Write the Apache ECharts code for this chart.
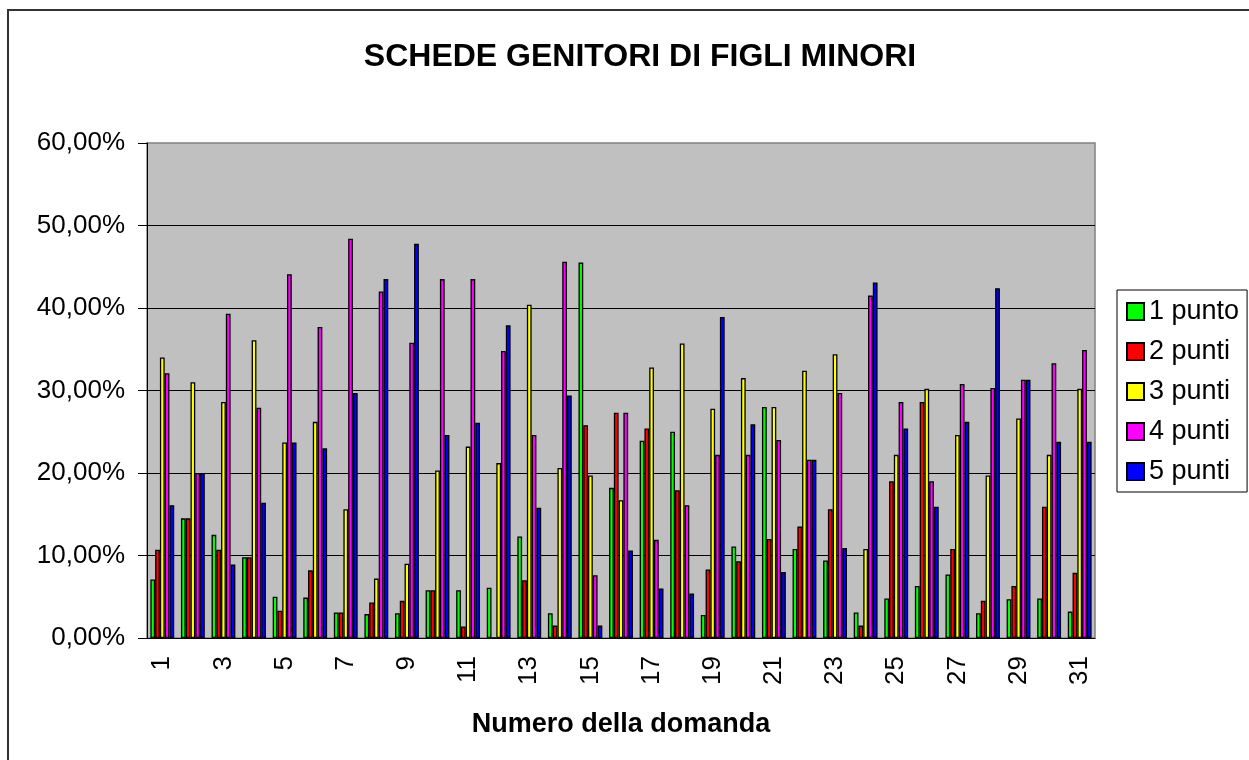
<!DOCTYPE html>
<html>
<head>
<meta charset="utf-8">
<script src="https://cdn.jsdelivr.net/npm/echarts@6/dist/echarts.min.js"></script>
<style>
  html, body { margin: 0; padding: 0; background: #fff; }
  #main { width: 1249px; height: 760px; }
</style>
</head>
<body>
<div id="main"></div>
<script>
// domande 1..31
const domande = [];
for (let i = 1; i <= 31; i++) domande.push(String(i));

// percentuali
const punto1 = [7.1, 14.5, 12.5, 9.8, 5.0, 4.9, 3.1, 2.9, 3.0, 5.8, 5.8, 6.1, 12.3, 3.0, 45.5, 18.2, 23.9, 25.0, 2.8, 11.1, 28.0, 10.8, 9.4, 3.1, 4.8, 6.3, 7.7, 3.0, 4.7, 4.8, 3.2];
const punti2 = [10.7, 14.5, 10.7, 9.8, 3.3, 8.2, 3.1, 4.3, 4.5, 5.8, 1.4, 0, 7.0, 1.5, 25.8, 27.3, 25.4, 17.9, 8.3, 9.3, 12.0, 13.5, 15.6, 1.5, 19.0, 28.6, 10.8, 4.5, 6.3, 15.9, 7.9];
const punti3 = [34.0, 31.0, 28.6, 36.1, 23.7, 26.2, 15.6, 7.2, 9.0, 20.3, 23.2, 21.2, 40.4, 20.6, 19.7, 16.7, 32.8, 35.7, 27.8, 31.5, 28.0, 32.4, 34.4, 10.8, 22.2, 30.2, 24.6, 19.7, 26.6, 22.2, 30.2];
const punti4 = [32.1, 20.0, 39.3, 27.9, 44.1, 37.7, 48.4, 42.0, 35.8, 43.5, 43.5, 34.8, 24.6, 45.6, 7.6, 27.3, 11.9, 16.1, 22.2, 22.2, 24.0, 21.6, 29.7, 41.5, 28.6, 19.0, 30.8, 30.3, 31.3, 33.3, 34.9];
const punti5 = [16.1, 20.0, 8.9, 16.4, 23.7, 23.0, 29.7, 43.5, 47.8, 24.6, 26.1, 37.9, 15.8, 29.4, 1.5, 10.6, 6.0, 5.4, 38.9, 25.9, 8.0, 21.6, 10.9, 43.1, 25.4, 15.9, 26.2, 42.4, 31.3, 23.8, 23.8];

const nomi = ['1 punto', '2 punti', '3 punti', '4 punti', '5 punti'];
const colori = ['#00FF00', '#FF0000', '#FFFF00', '#FF00FF', '#0000FF'];
const valori = [punto1, punti2, punti3, punti4, punti5];

const font = 'Arial, "Liberation Sans", sans-serif';

var myChart = echarts.init(document.getElementById('main'));

var serie = [];
for (var i = 0; i < nomi.length; i++) {
    serie.push({
        name: nomi[i],
        type: 'bar',
        data: valori[i],
        barGap: '0%',
        barCategoryGap: '22%',
        itemStyle: {
            color: colori[i],
            borderColor: '#000',
            borderWidth: 1.3
        }
    });
}

var option = {
    animation: false,
    backgroundColor: '#fff',
    textStyle: { fontFamily: font },
    graphic: [{
        type: 'rect',
        z: -1,
        shape: { x: 8, y: 10, width: 1300, height: 800 },
        style: { fill: 'none', stroke: '#333', lineWidth: 2 }
    }],
    title: {
        text: 'SCHEDE GENITORI DI FIGLI MINORI',
        left: 635,
        textAlign: 'center',
        top: 36,
        textStyle: { fontFamily: font, fontSize: 32, fontWeight: 'bold', color: '#000' }
    },
    legend: {
        orient: 'vertical',
        left: 1117,
        top: 290,
        padding: [8, 8, 7, 9],
        borderColor: '#000',
        borderWidth: 1,
        itemWidth: 17,
        itemHeight: 17,
        itemGap: 13,
        icon: 'rect',
        textStyle: { fontFamily: font, fontSize: 27, color: '#000' },
        data: nomi
    },
    grid: {
        left: 147,
        top: 143,
        right: 154,
        bottom: 122,
        show: true,
        backgroundColor: '#C0C0C0',
        borderColor: '#808080',
        borderWidth: 1.5
    },
    xAxis: {
        type: 'category',
        data: domande,
        name: 'Numero della domanda',
        nameLocation: 'middle',
        nameGap: 73,
        nameTextStyle: { fontFamily: font, fontSize: 27, fontWeight: 'bold', color: '#000' },
        axisLine: { lineStyle: { color: '#000', width: 1 } },
        axisTick: { interval: 0, length: 6, lineStyle: { color: '#000' } },
        axisLabel: {
            interval: 1,
            rotate: 90,
            margin: 18,
            fontFamily: font,
            fontSize: 26,
            color: '#000'
        }
    },
    yAxis: {
        type: 'value',
        min: 0,
        max: 60,
        interval: 10,
        axisLine: { show: true, lineStyle: { color: '#000', width: 1 } },
        axisTick: { show: true, length: 9, lineStyle: { color: '#000' } },
        axisLabel: {
            margin: 22,
            fontFamily: font,
            fontSize: 26,
            color: '#000',
            formatter: function (v) { return v.toFixed(2).replace('.', ',') + '%'; }
        },
        splitLine: { showMaxLine: false, lineStyle: { color: '#000', width: 1 } }
    },
    series: serie
};

myChart.setOption(option);
</script>
</body>
</html>
